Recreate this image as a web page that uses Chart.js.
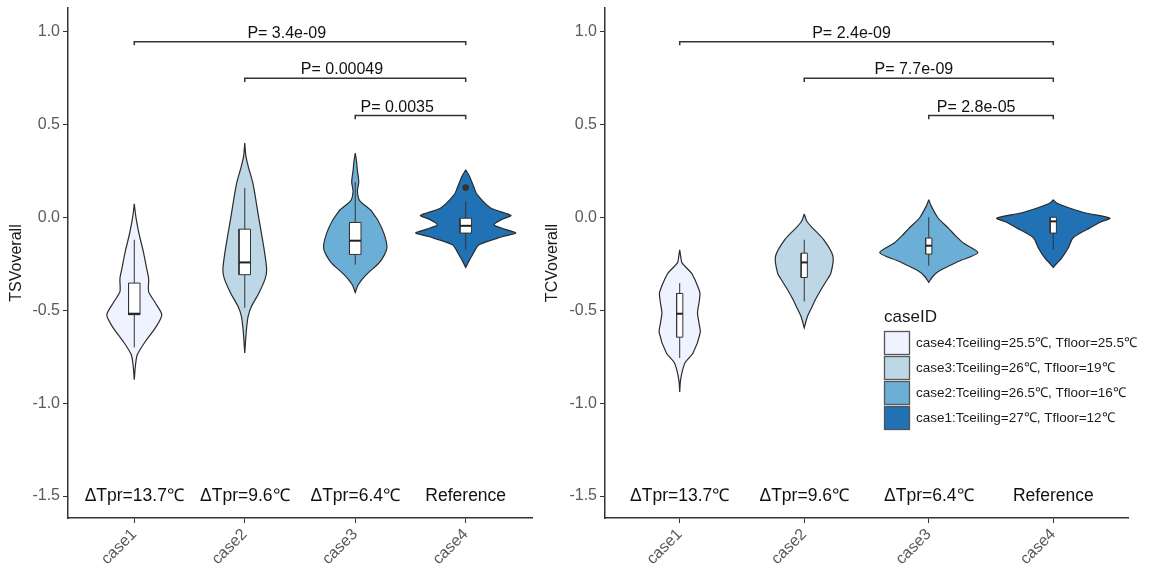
<!DOCTYPE html>
<html>
<head>
<meta charset="utf-8">
<script src="https://cdn.jsdelivr.net/npm/chart.js@4.4.1/dist/chart.umd.min.js"></script>
<style>
  body { margin: 0; background: #fff; width: 1159px; height: 573px; overflow: hidden; position: relative; }
  .panel { position: absolute; top: 0; height: 573px; }
</style>
</head>
<body>
<div class="panel" style="left:0;width:545px"><canvas id="tsvChart" width="545" height="573"></canvas></div>
<div class="panel" style="left:540px;width:619px"><canvas id="tcvChart" width="619" height="573"></canvas></div>
<script>
const categories = ['case1', 'case2', 'case3', 'case4'];
const tprLabels = ['ΔTpr=13.7℃', 'ΔTpr=9.6℃', 'ΔTpr=6.4℃', 'Reference'];
const caseColors = ['#EFF3FF', '#BDD7E7', '#6BAED6', '#2171B5'];
const yTicks = [-1.5, -1.0, -0.5, 0.0, 0.5, 1.0];

const legendTitle = 'caseID';
const legendLabels = [
    'case4:Tceiling=25.5℃, Tfloor=25.5℃',
    'case3:Tceiling=26℃, Tfloor=19℃',
    'case2:Tceiling=26.5℃, Tfloor=16℃',
    'case1:Tceiling=27℃, Tfloor=12℃'
];

// significance brackets: compared cases and bracket height
const pairs = [[1, 4], [2, 4], [3, 4]];
const bracketLevels = [0.945, 0.748, 0.547];
const tsvPValues = ['3.4e-09', '0.00049', '0.0035'];
const tcvPValues = ['2.4e-09', '7.7e-09', '2.8e-05'];

// violin outlines: value levels (top to bottom) and density half-widths in case units
const tsvLevels = [
    [0.073, 0.03, 0.0, -0.05, -0.094, -0.185, -0.27, -0.33, -0.40, -0.46, -0.525, -0.59, -0.67, -0.74, -0.80, -0.874],
    [0.40, 0.33, 0.27, 0.18, 0.0, -0.175, -0.28, -0.33, -0.41, -0.48, -0.535, -0.605, -0.66, -0.73],
    [0.345, 0.30, 0.25, 0.19, 0.14, 0.09, 0.031, -0.057, -0.164, -0.238, -0.31, -0.363, -0.405],
    [0.255, 0.22, 0.16, 0.12, 0.05, 0.01, -0.01, -0.04, -0.065, -0.085, -0.105, -0.148, -0.20, -0.24, -0.27]
];
const tsvWidths = [
    [0, 0.008, 0.015, 0.03, 0.045, 0.082, 0.11, 0.13, 0.13, 0.19, 0.249, 0.197, 0.098, 0.027, 0.01, 0],
    [0, 0.01, 0.033, 0.075, 0.126, 0.176, 0.198, 0.185, 0.126, 0.06, 0.03, 0.015, 0.008, 0],
    [0, 0.012, 0.02, 0.032, 0.02, 0.04, 0.151, 0.24, 0.287, 0.226, 0.098, 0.027, 0],
    [0, 0.035, 0.075, 0.106, 0.226, 0.41, 0.33, 0.256, 0.36, 0.453, 0.33, 0.12, 0.063, 0.025, 0]
];
const tcvLevels = [
    [-0.175, -0.22, -0.245, -0.30, -0.34, -0.39, -0.41, -0.46, -0.515, -0.57, -0.62, -0.73, -0.78, -0.82, -0.88, -0.94],
    [0.018, -0.02, -0.05, -0.12, -0.21, -0.30, -0.34, -0.39, -0.444, -0.48, -0.535, -0.595],
    [0.094, 0.06, 0.0, -0.022, -0.06, -0.094, -0.14, -0.19, -0.237, -0.29, -0.32, -0.35],
    [0.094, 0.075, 0.05, 0.023, -0.005, -0.025, -0.057, -0.11, -0.165, -0.22, -0.25, -0.27]
];
const tcvWidths = [
    [0, 0.01, 0.018, 0.094, 0.125, 0.155, 0.163, 0.155, 0.143, 0.155, 0.165, 0.107, 0.045, 0.024, 0.006, 0],
    [0, 0.02, 0.056, 0.156, 0.231, 0.214, 0.18, 0.134, 0.089, 0.064, 0.025, 0],
    [0, 0.02, 0.07, 0.10, 0.16, 0.207, 0.28, 0.394, 0.24, 0.08, 0.03, 0],
    [0, 0.03, 0.13, 0.26, 0.455, 0.38, 0.294, 0.16, 0.12, 0.067, 0.025, 0]
];

// box stats: [lower whisker, q1, median, q3, upper whisker]
const tsvBoxes = [
    [-0.70, -0.524, -0.519, -0.354, -0.121],
    [-0.487, -0.309, -0.243, -0.064, 0.157],
    [-0.255, -0.20, -0.126, -0.028, 0.19],
    [-0.175, -0.085, -0.046, -0.005, 0.085]
];
const tcvBoxes = [
    [-0.757, -0.645, -0.519, -0.41, -0.354],
    [-0.453, -0.324, -0.243, -0.193, -0.121],
    [-0.26, -0.198, -0.153, -0.112, 0.0],
    [-0.175, -0.085, -0.022, 0.0, 0.0]
];
const tsvOutliers = [{ x: 4, y: 0.16 }];
const tcvOutliers = [];

const FONT = '"Liberation Sans", Arial, sans-serif';
Chart.defaults.font.family = FONT;

function violinPoints(pos, levels, widths) {
    const right = levels.map((y, j) => ({ x: pos + widths[j], y: y }));
    const left = levels.map((y, j) => ({ x: pos - widths[j], y: y })).reverse();
    return right.concat(left, [right[0]]);
}

function buildDatasets(levels, widths, boxes, outliers, boxHalf) {
    const sets = [];
    categories.forEach((c, i) => {
        const pos = i + 1;
        sets.push({
            data: violinPoints(pos, levels[i], widths[i]),
            borderColor: '#2b2b2b', borderWidth: 1.2, backgroundColor: caseColors[i],
            fill: 'shape', tension: 0.25, pointRadius: 0, order: 4
        });
        const b = boxes[i];
        sets.push({
            data: [{ x: pos, y: b[0] }, { x: pos, y: b[4] }],
            borderColor: '#333', borderWidth: 1, pointRadius: 0, fill: false, order: 3
        });
        sets.push({
            data: [
                { x: pos - boxHalf, y: b[1] }, { x: pos + boxHalf, y: b[1] },
                { x: pos + boxHalf, y: b[3] }, { x: pos - boxHalf, y: b[3] },
                { x: pos - boxHalf, y: b[1] }
            ],
            borderColor: '#333', borderWidth: 1, backgroundColor: '#fff',
            fill: 'shape', tension: 0, pointRadius: 0, order: 2
        });
        sets.push({
            data: [{ x: pos - boxHalf, y: b[2] }, { x: pos + boxHalf, y: b[2] }],
            borderColor: '#222', borderWidth: 2, pointRadius: 0, fill: false, order: 1
        });
    });
    if (outliers.length) {
        sets.push({
            data: outliers, showLine: false, pointRadius: 3,
            pointBackgroundColor: '#333', pointBorderColor: '#333', order: 0
        });
    }
    pairs.forEach((p, k) => {
        const h = bracketLevels[k];
        sets.push({
            data: [{ x: p[0], y: h - 0.02 }, { x: p[0], y: h }, { x: p[1], y: h }, { x: p[1], y: h - 0.02 }],
            borderColor: '#333', borderWidth: 1.5, pointRadius: 0, fill: false, tension: 0, order: 0
        });
    });
    return sets;
}

const textPlugin = {
    id: 'panelText',
    afterDatasetsDraw(chart, args, opts) {
        const { ctx, scales: { x, y } } = chart;
        ctx.save();
        ctx.fillStyle = '#111';
        ctx.font = '16px ' + FONT;
        ctx.textAlign = 'center';
        ctx.textBaseline = 'alphabetic';
        pairs.forEach((p, k) => {
            const mid = (p[0] + p[1]) / 2 - 0.12;
            ctx.fillText('P= ' + opts.pValues[k], x.getPixelForValue(mid), y.getPixelForValue(bracketLevels[k]) - 4);
        });
        ctx.font = '17.5px ' + FONT;
        ctx.textBaseline = 'middle';
        tprLabels.forEach((t, i) => {
            ctx.fillText(t, x.getPixelForValue(i + 1), y.getPixelForValue(-1.5));
        });
        if (opts.legend) {
            const lx = opts.legend.x, ly = opts.legend.y;
            ctx.textAlign = 'left';
            ctx.font = '17px ' + FONT;
            ctx.fillStyle = '#1a1a1a';
            ctx.fillText(legendTitle, lx, ly - 14);
            ctx.font = '13.5px ' + FONT;
            legendLabels.forEach((t, i) => {
                const top = ly + i * 25;
                ctx.fillStyle = caseColors[i];
                ctx.fillRect(lx, top, 26, 24);
                ctx.strokeStyle = '#555';
                ctx.lineWidth = 1.3;
                ctx.strokeRect(lx + 0.5, top + 0.5, 25, 23);
                ctx.fillStyle = '#1a1a1a';
                ctx.fillText(t, lx + 32, top + 12.5);
            });
        }
        ctx.restore();
    }
};

function makePanel(id, cfg) {
    new Chart(document.getElementById(id), {
        type: 'line',
        data: { datasets: buildDatasets(cfg.levels, cfg.widths, cfg.boxes, cfg.outliers, cfg.boxHalf) },
        plugins: [textPlugin],
        options: {
            responsive: false,
            animation: false,
            layout: { padding: { top: 8, right: cfg.rightPad, left: 0, bottom: 0 } },
            plugins: {
                legend: { display: false },
                tooltip: { enabled: false },
                panelText: { pValues: cfg.pValues, legend: cfg.legend }
            },
            scales: {
                x: {
                    type: 'linear', min: 0.4, max: 4.6,
                    afterBuildTicks: s => { s.ticks = categories.map((c, i) => ({ value: i + 1 })); },
                    afterFit: s => { s.height = 55; s.paddingLeft = 0; s.paddingRight = 0; },
                    ticks: {
                        callback: v => categories[v - 1],
                        minRotation: 45, maxRotation: 45, padding: 2,
                        color: '#5a5a5a', font: { size: 16 }
                    },
                    grid: { drawOnChartArea: false, drawTicks: true, tickLength: 5, color: '#333' },
                    border: { display: true, color: '#333', width: 1.5 }
                },
                y: {
                    type: 'linear', min: -1.618, max: 1.126,
                    afterBuildTicks: s => { s.ticks = yTicks.map(v => ({ value: v })); },
                    afterFit: s => { s.width = cfg.yWidth; s.paddingTop = 0; s.paddingBottom = 0; },
                    ticks: {
                        callback: v => v.toFixed(1), padding: 3,
                        color: '#5a5a5a', font: { size: 16 }
                    },
                    title: {
                        display: true, text: cfg.title, color: '#1a1a1a',
                        font: { size: 16 }, padding: { top: cfg.titlePad, bottom: 0 }
                    },
                    grid: { drawOnChartArea: false, drawTicks: true, tickLength: 5, color: '#333' },
                    border: { display: true, color: '#333', width: 1.5 }
                }
            }
        }
    });
}

makePanel('tsvChart', {
    title: 'TSVoverall', levels: tsvLevels, widths: tsvWidths, boxes: tsvBoxes,
    outliers: tsvOutliers, pValues: tsvPValues, boxHalf: 0.052,
    yWidth: 68, rightPad: 13, titlePad: 7, legend: null
});
makePanel('tcvChart', {
    title: 'TCVoverall', levels: tcvLevels, widths: tcvWidths, boxes: tcvBoxes,
    outliers: tcvOutliers, pValues: tcvPValues, boxHalf: 0.025,
    yWidth: 65, rightPad: 31, titlePad: 3, legend: { x: 344, y: 331 }
});
</script>
</body>
</html>
